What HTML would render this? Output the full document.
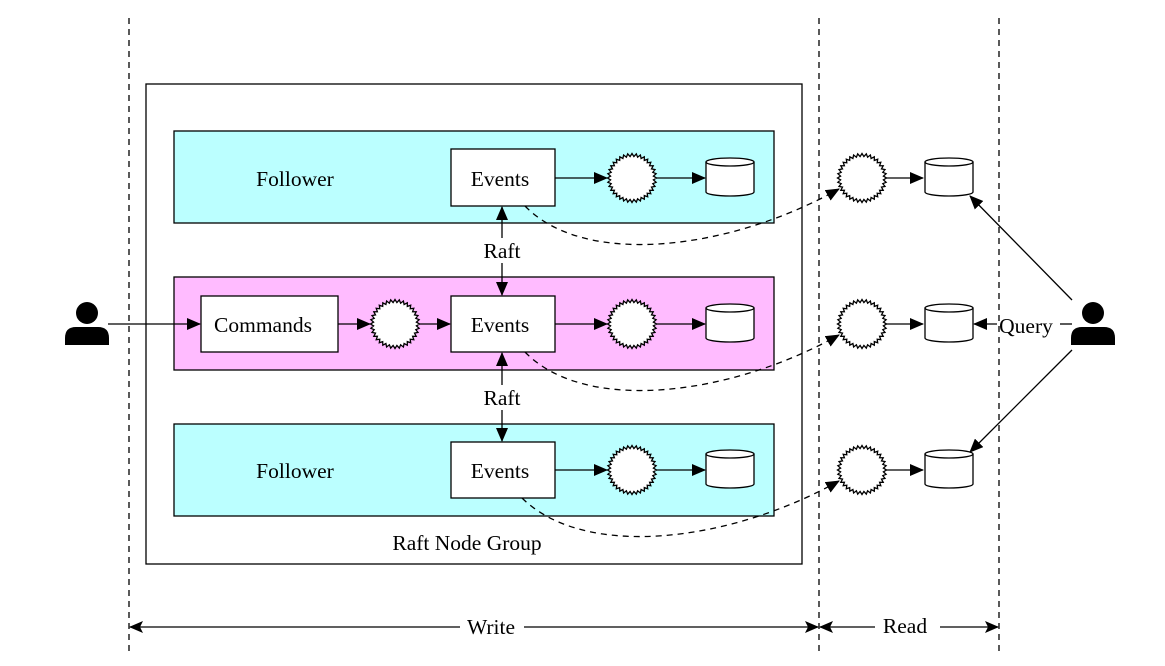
<!DOCTYPE html>
<html><head><meta charset="utf-8"><style>
html,body{margin:0;padding:0;background:#fff;}
svg{display:block;}
text{font-family:"Liberation Serif",serif;font-size:21.5px;fill:#000;}
</style></head><body>
<svg id="s" width="1165" height="666" viewBox="0 0 1165 666" xmlns="http://www.w3.org/2000/svg">
<defs>
<marker id="a" markerWidth="14" markerHeight="12" refX="13" refY="6" orient="auto" markerUnits="userSpaceOnUse">
<path d="M0,0 L14,6 L0,12 z" fill="#000"/></marker>
<marker id="b" markerWidth="14" markerHeight="12" refX="13" refY="6" orient="auto" markerUnits="userSpaceOnUse">
<path d="M0,0 L14,6 L0,12 L3,6 z" fill="#000"/></marker>
</defs>
<g stroke="#000" stroke-width="1.3" stroke-dasharray="6,5">
<line x1="129" y1="18" x2="129" y2="655"/>
<line x1="819" y1="18" x2="819" y2="655"/>
<line x1="999" y1="18" x2="999" y2="655"/>
</g>
<rect x="146" y="84" width="656" height="480" fill="#fff" stroke="#000" stroke-width="1.3"/>
<rect x="174" y="131" width="600" height="92" fill="#bbffff" stroke="#000" stroke-width="1.3"/>
<rect x="174" y="277" width="600" height="93" fill="#ffbbff" stroke="#000" stroke-width="1.3"/>
<rect x="174" y="424" width="600" height="92" fill="#bbffff" stroke="#000" stroke-width="1.3"/>
<text x="295" y="186" text-anchor="middle">Follower</text>
<text x="295" y="478" text-anchor="middle">Follower</text>
<text x="467" y="550" text-anchor="middle">Raft Node Group</text>
<g fill="#fff" stroke="#000" stroke-width="1.3">
<rect x="451" y="149" width="104" height="57"/>
<rect x="451" y="296" width="104" height="56"/>
<rect x="451" y="442" width="104" height="56"/>
<rect x="201" y="296" width="137" height="56"/>
</g>
<text x="500" y="186" text-anchor="middle">Events</text>
<text x="500" y="332" text-anchor="middle">Events</text>
<text x="500" y="478" text-anchor="middle">Events</text>
<text x="263" y="332" text-anchor="middle">Commands</text>
<g id="stars"></g>
<g id="cyl"></g>
<g stroke="#000" stroke-width="1.3" fill="none" marker-end="url(#a)">
<line x1="555" y1="178" x2="607" y2="178"/>
<line x1="656" y1="178" x2="705" y2="178"/>
<line x1="555" y1="324" x2="607" y2="324"/>
<line x1="656" y1="324" x2="705" y2="324"/>
<line x1="555" y1="470" x2="607" y2="470"/>
<line x1="656" y1="470" x2="705" y2="470"/>
<line x1="338" y1="324" x2="370" y2="324"/>
<line x1="419" y1="324" x2="450" y2="324"/>
<line x1="108" y1="324" x2="200" y2="324"/>
<line x1="886" y1="178" x2="923" y2="178"/>
<line x1="886" y1="324" x2="923" y2="324"/>
<line x1="886" y1="470" x2="923" y2="470"/>
<line x1="502" y1="238" x2="502" y2="207"/>
<line x1="502" y1="263" x2="502" y2="295"/>
<line x1="502" y1="385" x2="502" y2="353"/>
<line x1="502" y1="410" x2="502" y2="441"/>
<line x1="1072" y1="300" x2="970" y2="196"/>
<line x1="1072" y1="350" x2="970" y2="452"/>
<line x1="997" y1="324" x2="974" y2="324"/>
<line x1="1060" y1="324" x2="1072" y2="324" marker-end="none"/>
</g>
<text x="502" y="258" text-anchor="middle">Raft</text>
<text x="502" y="405" text-anchor="middle">Raft</text>
<text x="1026" y="333" text-anchor="middle">Query</text>
<g stroke="#000" stroke-width="1.3" fill="none" stroke-dasharray="6,5" marker-end="url(#a)">
<path d="M525,206 C585,268 730,250 839,189"/>
<path d="M525,352 C585,414 730,396 839,335"/>
<path d="M522,498 C585,560 730,542 839,481"/>
</g>
<g stroke="#000" stroke-width="1.3" marker-end="url(#b)">
<line x1="460" y1="627" x2="130" y2="627"/>
<line x1="524" y1="627" x2="818" y2="627"/>
<line x1="875" y1="627" x2="820" y2="627"/>
<line x1="940" y1="627" x2="998" y2="627"/>
</g>
<text x="491" y="634" text-anchor="middle">Write</text>
<text x="905" y="633" text-anchor="middle">Read</text>
<g fill="#000">
<circle cx="87" cy="313" r="11"/>
<path d="M65,345 L65,338 Q65,327 76,327 L98,327 Q109,327 109,338 L109,345 Z"/>
<circle cx="1093" cy="313" r="11"/>
<path d="M1071,345 L1071,338 Q1071,327 1082,327 L1104,327 Q1115,327 1115,338 L1115,345 Z"/>
</g>
</svg>
<script>
var NS="http://www.w3.org/2000/svg";
var sg=document.getElementById("stars");
[[632,178],[395,324],[632,324],[632,470],[862,178],[862,324],[862,470]].forEach(function(c){
 var p=[],n=36;
 for(var i=0;i<2*n;i++){var r=i%2?21.5:24.5,a=i*Math.PI/n;p.push((c[0]+r*Math.cos(a)).toFixed(1)+","+(c[1]+r*Math.sin(a)).toFixed(1));}
 var e=document.createElementNS(NS,"polygon");e.setAttribute("points",p.join(" "));
 e.setAttribute("fill","#fff");e.setAttribute("stroke","#000");e.setAttribute("stroke-width","1.3");sg.appendChild(e);
});
var cg=document.getElementById("cyl");
[[706,158],[706,304],[706,450],[925,158],[925,304],[925,450]].forEach(function(c){
 var x=c[0],y=c[1],w=48,h=38,ry=4;
 var d="M"+x+","+(y+ry)+" L"+x+","+(y+h-ry)+" A"+w/2+","+ry+" 0 0 0 "+(x+w)+","+(y+h-ry)+" L"+(x+w)+","+(y+ry)+" A"+w/2+","+ry+" 0 0 0 "+x+","+(y+ry)+" Z";
 var e=document.createElementNS(NS,"path");e.setAttribute("d",d);e.setAttribute("fill","#fff");e.setAttribute("stroke","#000");e.setAttribute("stroke-width","1.3");cg.appendChild(e);
 var t=document.createElementNS(NS,"path");t.setAttribute("d","M"+x+","+(y+ry)+" A"+w/2+","+ry+" 0 0 0 "+(x+w)+","+(y+ry));t.setAttribute("fill","none");t.setAttribute("stroke","#000");t.setAttribute("stroke-width","1.3");cg.appendChild(t);
});
</script>
</body></html>
